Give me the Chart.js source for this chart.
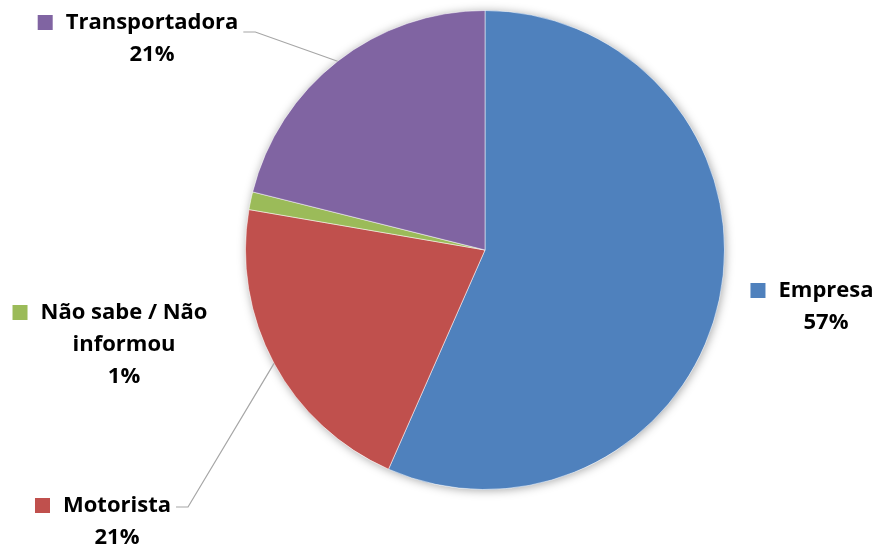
<!DOCTYPE html>
<html>
<head>
<meta charset="utf-8">
<script src="https://cdn.jsdelivr.net/npm/chart.js@4"></script>
<style>
  html, body { margin: 0; padding: 0; background: #fff; }
  canvas { display: block; }
</style>
</head>
<body>
<canvas id="pieChart" width="878" height="551"></canvas>
<script>
// dados do gráfico
const categorias = ['Empresa', 'Motorista', 'Não sabe / Não informou', 'Transportadora'];
const valores = [56.6, 21.1, 1.2, 21.1];
const cores = ['#4F81BD', '#C0504D', '#9BBB59', '#8064A2'];

// posição dos rótulos (linhas de texto, centro do texto, altura da linha de chamada)
const rotulos = [
    { linhas: ['Empresa'], x: 826, y: 291, leader: null },
    { linhas: ['Motorista'], x: 117, y: 506, leader: 1 },
    { linhas: ['Não sabe / Não', 'informou'], x: 124, y: 313, leader: null },
    { linhas: ['Transportadora'], x: 152, y: 23, leader: 9 }
];

const FONTE = 'bold 22px "Open Sans", Lato, sans-serif';
const ALTURA_LINHA = 32;

// sombra suave em volta da pizza
const sombraPlugin = {
    id: 'sombra',
    beforeDatasetsDraw(chart) {
        const arc = chart.getDatasetMeta(0).data[0];
        if (!arc) return;
        const ctx = chart.ctx;
        ctx.save();
        ctx.beginPath();
        ctx.arc(arc.x, arc.y, arc.outerRadius, 0, Math.PI * 2);
        ctx.fillStyle = '#fff';
        ctx.shadowColor = 'rgba(0,0,0,0.35)';
        ctx.shadowBlur = 10;
        ctx.shadowOffsetX = 1;
        ctx.shadowOffsetY = 1;
        ctx.fill();
        ctx.restore();
    }
};

// rótulos com quadrado da cor, nome e percentual
const rotulosPlugin = {
    id: 'rotulos',
    afterDatasetsDraw(chart) {
        const ctx = chart.ctx;
        const meta = chart.getDatasetMeta(0);
        const total = valores.reduce((a, b) => a + b, 0);
        ctx.save();
        ctx.font = FONTE;
        ctx.textBaseline = 'middle';
        ctx.textAlign = 'center';
        rotulos.forEach((r, i) => {
            const pct = Math.round(valores[i] / total * 100) + '%';
            const linhas = r.linhas.concat([pct]);
            const w0 = ctx.measureText(linhas[0]).width;
            const esq = r.x - w0 / 2;
            const dir = r.x + w0 / 2;

            // quadrado da legenda
            ctx.fillStyle = cores[i];
            ctx.fillRect(esq - 28, r.y - 8, 15, 15);

            ctx.fillStyle = '#000';
            linhas.forEach((t, k) => {
                ctx.fillText(t, r.x, r.y + k * ALTURA_LINHA);
            });

            // linha de chamada até o meio da fatia
            if (r.leader !== null) {
                const arc = meta.data[i];
                const p = arc.getProps(['x', 'y', 'startAngle', 'endAngle', 'outerRadius'], true);
                const meio = (p.startAngle + p.endAngle) / 2;
                const ex = p.x + Math.cos(meio) * p.outerRadius;
                const ey = p.y + Math.sin(meio) * p.outerRadius;
                ctx.strokeStyle = '#A6A6A6';
                ctx.lineWidth = 1.2;
                ctx.beginPath();
                ctx.moveTo(dir + 5, r.y + r.leader);
                ctx.lineTo(dir + 17, r.y + r.leader);
                ctx.lineTo(ex, ey);
                ctx.stroke();
            }
        });
        ctx.restore();
    }
};

new Chart(document.getElementById('pieChart').getContext('2d'), {
    type: 'pie',
    data: {
        labels: categorias,
        datasets: [{
            data: valores,
            backgroundColor: cores,
            borderColor: 'rgba(255,255,255,0.5)',
            borderWidth: 1
        }]
    },
    options: {
        responsive: false,
        animation: false,
        layout: { padding: { top: 10, bottom: 61, left: 245, right: 153 } },
        plugins: {
            legend: { display: false },
            tooltip: { enabled: false }
        }
    },
    plugins: [sombraPlugin, rotulosPlugin]
});
</script>
</body>
</html>
